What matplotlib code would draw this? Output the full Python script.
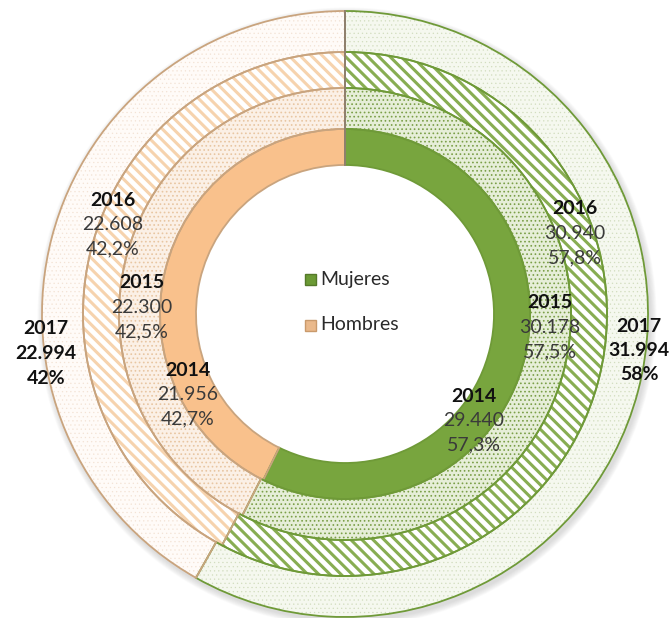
import matplotlib.pyplot as plt
from matplotlib.patches import Rectangle, Circle

plt.rcParams['font.family'] = ['Lato', 'DejaVu Sans']

years = [2014, 2015, 2016, 2017]
mujeres = [29440, 30178, 30940, 31994]
hombres = [21956, 22300, 22608, 22994]
decimales = [1, 1, 1, 0]
series = ['Mujeres', 'Hombres']

W, H = 672, 618
cx, cy = 345, H - 314
r_ext = [185, 226, 262, 303]
ancho = [36, 41, 36, 41]

# relleno, trama, color de trama (mujeres / hombres) por anillo
estilo_m = [('#78a53e', '', None),
            ('#e6eed8', '....', '#7b9f48'),
            ('#ffffff', '\\\\\\', '#88ad52'),
            ('#f5f8ef', '....', '#d2ddbf')]
estilo_h = [('#f9c18c', '', None),
            ('#fbf0e6', '....', '#e8c6a2'),
            ('#ffffff', '\\\\\\', '#f6d3ae'),
            ('#fffbf8', '....', '#f3e3d5')]
trama_lw = [1.0, 0.7, 2.2, 0.4]
borde_m = '#6f9a38'
borde_h = '#c9a47e'

# posiciones de etiquetas (px): mujeres, hombres
pos_m = [(474, 396), (550, 303), (575, 209), (639, 326)]
pos_h = [(188, 370), (142, 283), (113, 200), (46, 329)]


def miles(v):
    return f'{v:,}'.replace(',', '.')


def pct(v, total, d):
    return f'{100 * v / total:.{d}f}'.replace('.', ',') + '%'


fig = plt.figure(figsize=(W / 100, H / 100), dpi=100)
ax = fig.add_axes([0, 0, 1, 1])

# sombra suave
for i in range(8):
    ax.add_patch(Circle((cx + 2, cy - 3), r_ext[-1] + 1 + i * 0.8,
                        color='#808080', alpha=0.035, lw=0, zorder=0))
ax.add_patch(Circle((cx, cy), r_ext[-1], color='white', lw=0, zorder=0.5))

for k in range(len(years)):
    vals = [mujeres[k], hombres[k]]
    plt.rcParams['hatch.linewidth'] = trama_lw[k]
    wedges, _ = ax.pie(vals, radius=r_ext[k], center=(cx, cy), startangle=90,
                       counterclock=False, wedgeprops=dict(width=ancho[k]))
    for w, (fc, hatch, hc), ec in zip(wedges, [estilo_m[k], estilo_h[k]],
                                      [borde_m, borde_h]):
        w.set_facecolor(fc)
        w.set_edgecolor(hc if hc else ec)
        w.set_linewidth(0)
        w.set_hatch(hatch)
        w.set_zorder(1)
    outline, _ = ax.pie(vals, radius=r_ext[k], center=(cx, cy), startangle=90,
                        counterclock=False,
                        wedgeprops=dict(width=ancho[k], facecolor='none', linewidth=1.3))
    for w, ec in zip(outline, [borde_m, borde_h]):
        w.set_edgecolor(ec)
        w.set_zorder(2)

# separación vertical superior
ax.plot([cx, cx], [cy + r_ext[0] - ancho[0], cy + r_ext[-1]], color='#8a7d6c', lw=1.3, zorder=3)

for k, y in enumerate(years):
    total = mujeres[k] + hombres[k]
    bold_all = k == len(years) - 1
    for (px, py), v in ((pos_m[k], mujeres[k]), (pos_h[k], hombres[k])):
        lineas = [str(y), miles(v), pct(v, total, decimales[k])]
        for j, t in enumerate(lineas):
            negrita = j == 0 or bold_all
            ax.text(px, H - (py + 24.5 * j), t, ha='center', va='center', fontsize=14,
                    fontweight='bold' if negrita else 'normal',
                    color='#111111' if negrita else '#3a3a3a', zorder=5)

# leyenda
for i, (nombre, fc, ec) in enumerate(zip(series, ['#6b9a35', '#eab98b'], ['#55792a', '#c99a6c'])):
    ly = H - (279 + 46 * i)
    ax.add_patch(Rectangle((305, ly - 6), 11, 11, facecolor=fc, edgecolor=ec, lw=1, zorder=5))
    ax.text(320, ly, nombre, ha='left', va='center', fontsize=14, color='#2a2a2a', zorder=5)

ax.set_xlim(0, W)
ax.set_ylim(0, H)
ax.set_aspect('auto')
ax.axis('off')

fig.savefig('out.png', dpi=100, facecolor='white')
